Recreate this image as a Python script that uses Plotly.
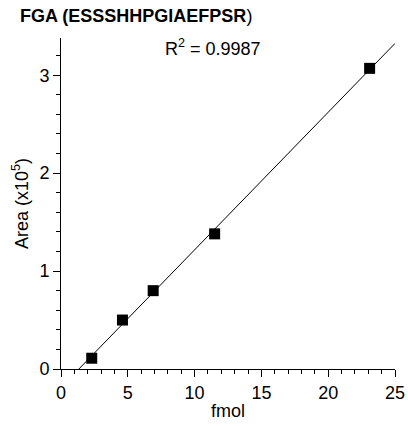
import numpy as np
import plotly.graph_objects as go

fmol = [2.3, 4.6, 6.9, 11.5, 23.1]
area = [0.11, 0.50, 0.80, 1.38, 3.07]
r2_text = "R<sup>2</sup> = 0.9987"
title = "<b>FGA (ESSSHHPGIAEFPSR</b>)"

x_max = 25
y_max = 3.38

m, b = np.polyfit(fmol, area, 1)
x0 = -b / m
x1 = min(x_max, (y_max - b) / m)
line_x = [x0, x1]
line_y = [m * x0 + b, m * x1 + b]

fig = go.Figure()
fig.add_trace(go.Scatter(x=line_x, y=line_y, mode="lines",
                         line=dict(color="black", width=1), showlegend=False))
fig.add_trace(go.Scatter(x=fmol, y=area, mode="markers",
                         marker=dict(symbol="square", size=11, color="black"),
                         showlegend=False))

font = "Liberation Sans, Arial, sans-serif"
W, H = 408, 426
fig.update_layout(
    width=W, height=H,
    margin=dict(l=61, r=13, t=38, b=57, autoexpand=False),
    paper_bgcolor="white", plot_bgcolor="white",
    font=dict(family=font, color="black", size=18),
    title=dict(text=title, x=20 / W, xanchor="left", xref="container",
               y=1 - 16 / H, yanchor="middle", yref="container", pad=dict(t=0, l=0),
               font=dict(size=18, family=font)),
    xaxis=dict(range=[0, x_max], showgrid=False, zeroline=False, automargin=False,
               showline=True, linecolor="black", linewidth=1,
               ticks="outside", ticklen=7, tickcolor="black",
               tick0=0, dtick=5, tickfont=dict(size=18),
               minor=dict(ticks="outside", ticklen=4, dtick=1, tickcolor="black"),
               title=dict(text="fmol", font=dict(size=18), standoff=2)),
    yaxis=dict(range=[0, y_max], showgrid=False, zeroline=False, automargin=False,
               showline=True, linecolor="black", linewidth=1,
               ticks="outside", ticklen=7, tickcolor="black",
               tick0=0, dtick=1, tickfont=dict(size=18),
               minor=dict(ticks="outside", ticklen=4, dtick=0.2, tickcolor="black"),
               title=dict(text="Area (x10<sup>5</sup>)", font=dict(size=18), standoff=6)),
    annotations=[dict(text=r2_text, x=7.6, y=3.286, xref="x", yref="y",
                      xanchor="left", showarrow=False, font=dict(size=18, family=font))],
)

fig.write_html(
    "out.html",
    config={"displayModeBar": False},
    post_script="document.body.style.margin='0';document.body.style.overflow='hidden';",
)
